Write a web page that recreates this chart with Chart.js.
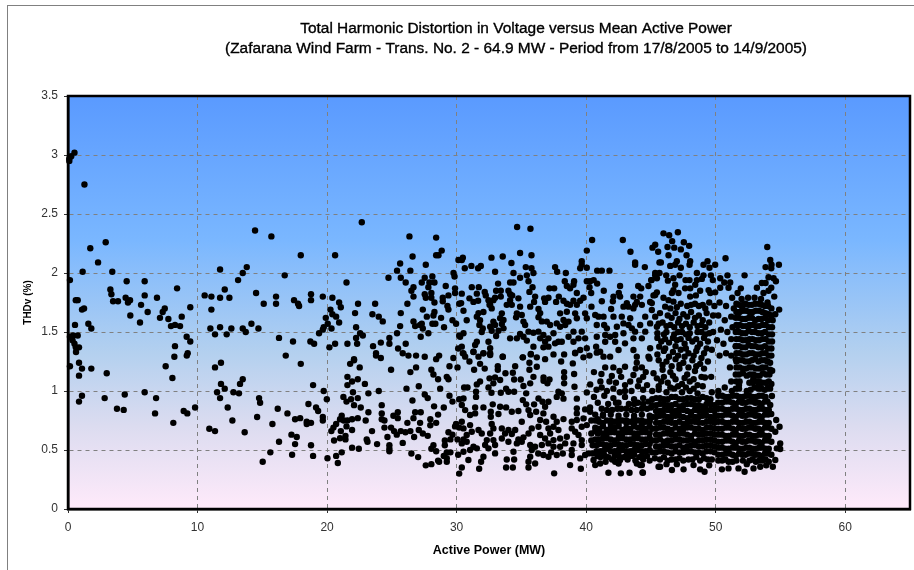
<!DOCTYPE html>
<html>
<head>
<meta charset="utf-8">
<title>THDv versus Active Power</title>
<script src="https://cdn.jsdelivr.net/npm/chart.js@4"></script>
<style>
html, body { margin: 0; padding: 0; background: #fff; overflow: hidden; }
canvas { display: block; }
</style>
</head>
<body>
<canvas id="chart" width="914" height="570"></canvas>
<script>
'use strict';

const titleLines = [
	'Total Harmonic Distortion in Voltage versus Mean Active Power',
	'(Zafarana Wind Farm - Trans. No. 2 - 64.9 MW - Period from 17/8/2005 to 14/9/2005)'
];
const xTitle = 'Active Power (MW)';
const yTitle = 'THDv (%)';
const yTickLabels = ['0', '0.5', '1', '1.5', '2', '2.5', '3', '3.5'];
const xTickLabels = ['0', '10', '20', '30', '40', '50', '60'];

// [active power MW, THDv %], band by band
const powerUnder15 = [
	[0.1,2.95],[0.1,2.97],[0.25,2.99],[0.5,3.02],[1.27,2.75],[0.15,1.94],[1.13,2.01],[1.72,2.21],[2.32,2.09],[2.91,2.26],
	[3.42,2.01],[3.27,1.86],[3.35,1.82],[3.48,1.76],[3.86,1.76],[4.53,1.93],[5.92,1.93],[4.45,1.79],[4.79,1.77],[4.63,1.75],
	[5.92,1.81],[5.64,1.73],[6.87,1.79],[8.42,1.87],[7.47,1.70],[7.31,1.67],[7.10,1.62],[6.15,1.67],[4.81,1.64],[5.56,1.58],
	[7.75,1.61],[8.78,1.63],[9.44,1.71],[7.95,1.55],[8.26,1.56],[8.65,1.55],[9.16,1.46],[9.44,1.42],[8.26,1.38],[0.75,1.77],
	[0.6,1.77],[1.08,1.69],[1.24,1.70],[0.54,1.56],[1.57,1.57],[1.8,1.53],[0.15,1.46],[0.4,1.47],[0.75,1.47],[0.35,1.43],
	[0.5,1.40],[0.6,1.37],[0.85,1.37],[10.55,1.81],[11.07,1.80],[11.74,1.79],[12.46,1.79],[12.1,1.86],[11.74,2.03],[13.13,1.94],
	[13.49,2.0],[13.8,2.05],[14.44,2.36],[14.52,1.83],[11.07,1.69],[10.99,1.53],[11.35,1.48],[11.74,1.54],[12.25,1.48],[12.61,1.53],
	[13.49,1.53],[13.72,1.50],[14.16,1.57],[14.7,1.53],[0.62,1.33],[0.85,1.24],[0.15,1.21],[1.08,1.19],[1.8,1.19],[0.85,1.13],
	[2.99,1.15],[1.08,0.96],[0.85,0.91],[2.83,0.94],[4.38,0.97],[3.78,0.85],[4.3,0.84],[5.92,0.99],[6.8,0.94],[6.72,0.81],
	[7.54,1.21],[8.21,1.29],[8.06,1.11],[9.17,1.30],[9.24,1.32],[8.13,0.73],[8.93,0.83],[9.21,0.81],[9.81,0.86],[11.35,1.20],
	[11.81,1.24],[11.81,1.06],[12.1,1.02],[11.51,0.99],[11.74,0.94],[12.77,0.99],[13.2,0.98],[13.28,1.06],[13.49,1.10],[12.33,0.86],
	[12.69,0.75],[10.91,0.68],[11.35,0.66],[13.64,0.65],[14.6,0.78],[14.75,0.94],[14.83,0.90]
];

const power15to30 = [
	[15.7,2.31],[17.97,2.15],[20.62,2.15],[22.68,2.43],[26.36,2.31],[28.42,2.30],[16.73,1.98],[26.6,2.14],[28.85,2.19],[28.42,2.15],
	[28.6,2.15],[27.62,2.07],[25.64,2.08],[25.4,2.02],[26.43,2.02],[24.74,1.96],[25.69,1.96],[26.07,1.92],[21.5,1.92],[27.54,1.96],
	[27.31,1.92],[28.13,1.97],[29.76,2.0],[29.84,1.97],[28.29,1.92],[27.9,1.92],[27.82,1.88],[29.16,1.89],[26.67,1.88],[26.51,1.85],
	[26.67,1.80],[27.54,1.82],[27.62,1.79],[28.05,1.83],[28.05,1.79],[28.29,1.75],[28.93,1.79],[28.93,1.76],[29.37,1.81],[29.88,1.87],
	[29.88,1.83],[29.29,1.72],[29.37,1.69],[26.2,1.74],[27.39,1.69],[28.29,1.67],[28.21,1.64],[27.7,1.63],[28.8,1.62],[25.69,1.66],
	[23.71,1.74],[22.39,1.74],[22.16,1.66],[23.5,1.65],[23.99,1.63],[24.3,1.59],[18.76,1.82],[18.76,1.77],[19.67,1.80],[20.41,1.79],
	[20.93,1.75],[21.06,1.71],[16.06,1.80],[16.06,1.74],[15.11,1.74],[17.45,1.77],[17.76,1.74],[17.84,1.72],[20.26,1.69],[20.41,1.65],
	[20.7,1.63],[19.9,1.62],[20.93,1.58],[20.05,1.57],[19.74,1.54],[20.34,1.53],[19.67,1.52],[19.38,1.49],[22.24,1.54],[22.55,1.49],
	[22.76,1.47],[22.24,1.45],[22.32,1.40],[21.57,1.40],[20.62,1.40],[20.18,1.37],[23.55,1.38],[24.15,1.41],[24.81,1.45],[24.81,1.40],
	[25.4,1.49],[25.64,1.55],[26.07,1.40],[25.48,1.36],[25.84,1.32],[26.28,1.30],[26.87,1.30],[27.54,1.29],[27.82,1.49],[27.23,1.46],
	[26.67,1.59],[26.8,1.55],[27.18,1.56],[27.39,1.53],[27.31,1.57],[28.13,1.57],[28.36,1.57],[29.03,1.54],[29.68,1.60],[29.96,1.57],
	[16.29,1.45],[17.37,1.42],[18.71,1.42],[19,1.40],[16.81,1.30],[22.08,1.27],[23.78,1.32],[23.78,1.30],[24.15,1.28],[28.65,1.30],
	[28.42,1.27],[29.75,1.28],[17.97,1.23],[18.92,1.05],[19.74,1.0],[19.98,0.93],[18.56,0.89],[19.15,0.86],[19.31,0.83],[16.19,0.85],
	[16.94,0.81],[17.53,0.76],[17.92,0.77],[18.43,0.74],[18.76,0.73],[18.43,0.72],[19.67,0.78],[19.67,0.75],[15.78,0.72],[17.25,0.63],
	[17.66,0.61],[16.29,0.57],[17.53,0.55],[18.76,0.54],[15.62,0.48],[17.3,0.46],[18.92,0.45],[15.03,0.40],[20.03,0.43],[20.7,0.45],
	[21.13,0.48],[20.83,0.39],[21.93,0.52],[22.45,0.51],[20.54,0.58],[21,0.60],[21.42,0.59],[21.42,0.62],[20.33,0.66],[20.49,0.69],
	[20.7,0.72],[21.06,0.66],[21.5,0.70],[21.93,0.67],[21.13,0.79],[21,0.76],[21.29,0.75],[21.57,0.75],[21.93,0.76],[22.37,0.77],
	[22.98,0.75],[23.19,0.82],[23.47,0.66],[23.06,0.59],[23.12,0.57],[23.86,0.55],[22.6,0.86],[22.08,0.88],[21.5,0.91],[21.26,0.95],
	[21.85,0.93],[22,0.99],[22.37,0.94],[23.19,0.98],[23.99,1.0],[21.57,1.12],[21.57,1.05],[21.93,1.08],[22.37,1.10],[22.92,1.06],
	[21.78,1.23],[22.08,1.26],[22.52,1.20],[24.94,1.18],[26.43,1.16],[26.87,1.20],[28.05,1.18],[28.21,1.14],[28.57,1.10],[29.45,1.21],
	[29.24,1.12],[29.37,1.10],[27.08,1.04],[26.13,1.02],[28.73,1.02],[27.54,0.97],[27.77,0.94],[26.59,0.92],[29.45,0.96],[29.68,0.91],
	[24.22,0.88],[24.22,0.81],[24.22,0.76],[24.43,0.75],[25.12,0.79],[25.46,0.82],[25.46,0.77],[26.67,0.77],[26.8,0.82],[27.23,0.82],
	[28.26,0.87],[28.57,0.80],[29.01,0.86],[26.2,0.73],[27.18,0.73],[27.97,0.76],[27.97,0.71],[28.42,0.73],[24.43,0.69],[24.94,0.69],
	[25.17,0.66],[25.38,0.63],[25.69,0.66],[26.05,0.65],[26.43,0.66],[26.72,0.61],[27.08,0.67],[27.39,0.64],[27.77,0.62],[24.66,0.61],
	[25.84,0.56],[24.81,0.54],[24.81,0.51],[24.81,0.49],[26.51,0.47],[27.03,0.44],[27.62,0.37],[28.05,0.38],[28.21,0.54],[28.05,0.51],
	[28.42,0.49],[28.57,0.41],[28.65,0.40],[29.24,0.43],[29.24,0.40],[29.01,0.45],[29.52,0.48],[29.24,0.48],[29.09,0.58],[29.09,0.54],
	[29.52,0.59],[29.37,0.65],[29.68,0.63],[29.88,0.70],[29.96,0.72]
];

const power30to40 = [
	[30.2,1.74],[30.14,2.11],[30.2,1.47],[30.12,1.36],[30.07,1.20],[30.2,0.93],[30.2,0.69],[30.07,0.59],[30.12,0.46],[30.2,0.30],
	[34.67,2.39],[35.7,2.375],[30.48,2.13],[30.4,2.11],[32.69,2.13],[33.56,2.14],[34.9,2.17],[35.78,2.15],[34.23,2.085],[39.66,2.10],
	[39.66,2.07],[39.54,2.04],[31.14,2.06],[30.63,2.04],[31.87,2.06],[31.66,2.04],[32.97,2.01],[35.34,2.05],[35.78,2.04],[35.93,2.0],
	[37.6,2.05],[37.76,2.01],[38.43,2.0],[34.39,2.0],[35.42,1.98],[34.9,1.96],[35.55,1.93],[34.13,1.92],[34.39,1.92],[33.2,1.91],
	[38.35,1.93],[39.07,1.93],[38.51,1.89],[38.76,1.87],[39.02,1.9],[31.17,1.88],[31.71,1.88],[32.17,1.84],[32.25,1.81],[33.05,1.85],
	[33.41,1.85],[34.0,1.85],[34.13,1.82],[35.86,1.88],[35.62,1.84],[37.17,1.87],[37.53,1.87],[31.56,1.825],[30.4,1.825],[30.99,1.785],
	[31.3,1.755],[31.66,1.765],[32.97,1.79],[33.41,1.80],[32.59,1.73],[34.29,1.81],[34.13,1.77],[34.77,1.785],[33.87,1.73],[34.26,1.73],
	[36.06,1.80],[35.98,1.755],[35.68,1.715],[37.09,1.79],[36.76,1.785],[36.83,1.755],[37.89,1.80],[37.68,1.755],[38.25,1.765],[38.51,1.74],
	[39.28,1.83],[39.79,1.79],[39.02,1.765],[39.54,1.765],[39.28,1.73],[38.76,1.73],[30.35,1.745],[30.53,1.68],[30.78,1.6],[32.46,1.77],
	[32.84,1.77],[32.71,1.70],[32.54,1.73],[34.9,1.715],[36.32,1.695],[36.45,1.66],[36.32,1.625],[36.58,1.59],[32.07,1.67],[31.69,1.66],
	[31.56,1.63],[31.81,1.60],[31.76,1.56],[32.02,1.53],[31.94,1.50],[32.84,1.588],[32.59,1.545],[32.97,1.56],[32.71,1.51],[33.49,1.658],
	[33.36,1.616],[33.62,1.602],[33.49,1.568],[33.62,1.531],[33.23,1.511],[33.05,1.466],[34.65,1.658],[34.59,1.624],[35.03,1.644],[35.16,1.588],
	[35.29,1.559],[34.9,1.483],[35.55,1.503],[35.93,1.494],[36.32,1.503],[34.65,1.446],[35.16,1.46],[35.42,1.427],[34.13,1.446],[36.96,1.588],
	[37.22,1.559],[37.73,1.573],[37.99,1.545],[38.38,1.559],[38.25,1.602],[38.64,1.588],[37.99,1.658],[38.51,1.672],[39.15,1.658],[39.28,1.616],
	[39.92,1.658],[36.7,1.475],[37.09,1.446],[36.83,1.418],[36.45,1.446],[37.48,1.489],[37.86,1.418],[38.12,1.418],[38.64,1.46],[39.02,1.503],
	[39.41,1.446],[39.66,1.503],[39.92,1.446],[39.02,1.418],[39.54,1.347],[30.4,1.376],[30.53,1.319],[31.3,1.333],[31.43,1.39],[31.56,1.418],
	[32.46,1.418],[32.59,1.362],[32.07,1.319],[32.59,1.305],[33.56,1.291],[31.69,1.291],[30.66,1.291],[30.53,1.489],[30.27,1.46],[35.93,1.376],
	[35.73,1.314],[35.11,1.285],[36.19,1.285],[36.7,1.37],[37.09,1.376],[37.6,1.404],[39.15,1.319],[30.48,1.32],[31.3,1.33],[32.07,1.32],
	[32.59,1.32],[33.56,1.29],[35.11,1.285],[35.73,1.31],[36.83,1.27],[37.48,1.31],[38.3,1.31],[39.15,1.325],[39.79,1.285],[30.99,1.25],
	[31.81,1.23],[31.35,1.18],[32.17,1.19],[33.18,1.21],[33.18,1.18],[34.52,1.21],[34.34,1.155],[33.77,1.15],[35.62,1.24],[35.62,1.18],
	[36.19,1.206],[38.07,1.25],[38.97,1.234],[39.07,1.144],[38.3,1.16],[38.3,1.115],[38.3,1.065],[32.54,1.107],[32.97,1.115],[33.36,1.093],
	[32.84,1.065],[32.46,1.03],[31.81,1.08],[31.56,1.056],[30.58,1.03],[30.84,1.03],[31.5,0.994],[31.5,0.95],[32.69,0.985],[33.41,0.985],
	[33.82,1.02],[34,0.994],[34.44,1.098],[34.95,1.098],[34.44,0.994],[35.16,1.042],[35.68,1.065],[35.93,1.12],[35.37,0.98],[36.71,1.115],
	[37.17,1.098],[37.01,1.065],[36.71,1.087],[37.86,0.994],[38.12,0.98],[37.73,0.95],[38.25,0.935],[39.1,1.036],[39.28,0.935],[35.11,0.923],
	[35.37,0.887],[35.98,0.887],[36.32,0.937],[36.63,0.909],[37.09,0.909],[36.83,0.867],[35.55,0.838],[35.68,0.796],[36.14,0.824],[36.7,0.81],
	[35.03,0.74],[32.79,0.887],[33.36,0.867],[33.82,0.861],[32.07,0.861],[31.43,0.861],[32.64,0.824],[32.64,0.782],[33.23,0.805],[34.26,0.824],
	[34.77,0.83],[30.53,0.937],[30.4,0.881],[30.66,0.838],[31.04,0.796],[31.43,0.81],[38.25,0.762],[37.48,0.782],[36.45,0.754],[36.91,0.74],
	[37.73,0.74],[36.32,0.697],[39.28,0.853],[39.28,0.81],[39.92,0.844],[39.79,0.768],[39.28,0.754],[38.89,0.74],[30.4,0.74],[30.53,0.683],
	[31.04,0.711],[31.17,0.655],[31.69,0.669],[31.94,0.64],[30.78,0.627],[32.71,0.72],[32.84,0.683],[32.59,0.64],[33.49,0.683],[34,0.669],
	[34.52,0.669],[33.74,0.64],[34.26,0.635],[35.8,0.683],[35.55,0.64],[35.16,0.607],[34.77,0.59],[36.45,0.627],[37.09,0.683],[37.48,0.697],
	[37.86,0.669],[37.22,0.64],[36.83,0.598],[38.89,0.683],[39.15,0.655],[39.66,0.697],[39.41,0.627],[38.51,0.612],[37.99,0.598],[37.48,0.584],
	[30.53,0.59],[30.78,0.57],[30.4,0.556],[31.3,0.528],[31.56,0.514],[31.04,0.5],[30.53,0.485],[32.33,0.584],[32.84,0.584],[33.49,0.598],
	[34,0.57],[32.97,0.542],[32.46,0.514],[32.2,0.542],[32.97,0.471],[32.07,0.443],[34.65,0.556],[35.03,0.57],[35.68,0.542],[36.06,0.528],
	[36.58,0.542],[37.09,0.556],[37.48,0.528],[35.8,0.5],[35.68,0.443],[35.55,0.4],[36.06,0.386],[35.55,0.352],[33.87,0.42],[34.44,0.42],
	[33.82,0.352],[34.34,0.352],[34.39,0.485],[30.91,0.415],[31.89,0.4],[31.74,0.341],[30.4,0.352],[36.7,0.457],[37.09,0.443],[37.73,0.457],
	[38.76,0.372],[39.59,0.341],[37.53,0.302],[39.02,0.556],[39.66,0.584],[39.66,0.542],[38.89,0.5],[38.89,0.457],[39.54,0.429],[39.92,0.457],
	[37.99,0.528],[38.38,0.556],[37.3,0.48],[38.2,0.47],[36.3,0.47]
];

const power40to45 = [
	[40.46,2.28],[42.83,2.28],[40.05,2.19],[43.42,2.18],[40.05,2.045],[43.78,2.09],[43.78,2.07],[44.53,2.05],[40.85,2.02],[41.21,2.02],
	[41.8,2.02],[40.05,1.93],[40.31,1.93],[40.58,1.94],[40.85,1.91],[40.26,1.88],[40.39,1.83],[41.36,1.85],[42.62,1.89],[42.52,1.83],
	[42.62,1.80],[44.02,1.89],[44.25,1.87],[44.81,1.89],[41.21,1.76],[42.11,1.80],[42.06,1.76],[43.65,1.80],[44.17,1.80],[43.78,1.73],
	[44.3,1.73],[40.41,1.715],[41.93,1.695],[42.88,1.715],[43.27,1.715],[43.65,1.70],[43.14,1.745],[43.91,1.755],[40.05,1.616],[40.7,1.644],
	[40.96,1.63],[41.34,1.63],[40.82,1.559],[41.39,1.559],[41.6,1.531],[41.47,1.475],[42.11,1.63],[42.75,1.63],[43.4,1.616],[43.27,1.559],
	[42.88,1.573],[42.37,1.545],[42.24,1.475],[41.85,1.46],[42.88,1.489],[42.24,1.418],[43.53,1.531],[43.78,1.503],[43.65,1.446],[44.3,1.446],
	[44.56,1.503],[44.17,1.559],[44.56,1.63],[44.94,1.573],[40.82,1.46],[41.47,1.418],[40.77,1.375],[41.08,1.333],[41.85,1.291],[41.34,1.291],
	[40.05,1.362],[42.5,1.347],[43.0,1.404],[43.65,1.347],[43.91,1.291],[44.81,1.291],[44.94,1.362],[40.26,1.30],[40.82,1.325],[44.89,1.274],
	[41.47,1.2],[41.18,1.144],[41.98,1.127],[42.57,1.17],[43.0,1.206],[43.65,1.135],[43.83,1.19],[43.91,1.24],[40.31,1.056],[40.05,0.988],
	[40.31,0.824],[40.05,0.711],[40.18,0.471],[40.57,0.415],[40.7,0.372],[41.08,0.386],[41.34,0.471],[40.87,0.449],[42.5,0.386],[42.24,0.4],
	[42.62,0.415],[44.17,0.372],[43.91,0.386],[41.72,0.307],[42.68,0.302],[43.35,0.307],[44.35,0.31],[44.3,0.372],[44.38,0.307],
	[41.1,1.08],[42.3,1.07],[43.0,1.05],[44.1,1.09],[44.7,1.05],[40.8,1.01],[41.6,1.0],[42.6,0.99],[43.5,1.0],[44.4,1.01],
	[40.6,0.95],[41.4,0.96],[42.1,0.94],[43.0,0.95],[43.7,0.93],[44.4,0.94],[40.9,0.9],[41.7,0.89],[42.5,0.9],[43.3,0.89],[44.0,0.9],[44.8,0.91],
	[40.3,0.86],[41.2,0.85],[42.0,0.84],[42.7,0.85],[43.5,0.84],[44.3,0.85],[45.0,0.86],[40.7,0.8],[41.3,0.79],[41.9,0.8],[42.5,0.79],[43.1,0.8],[43.7,0.79],[44.3,0.8],[44.9,0.79],
	[40.4,0.75],[41.0,0.74],[41.6,0.75],[42.2,0.74],[42.8,0.75],[43.4,0.74],[44.0,0.75],[44.6,0.74],[40.7,0.69],[41.3,0.7],[41.9,0.69],[42.5,0.7],[43.1,0.69],[43.7,0.7],[44.3,0.69],[44.9,0.7],
	[40.4,0.64],[41.0,0.65],[41.6,0.64],[42.2,0.65],[42.8,0.64],[43.4,0.65],[44.0,0.64],[44.6,0.65],[40.7,0.59],[41.3,0.6],[41.9,0.59],[42.5,0.6],[43.1,0.59],[43.7,0.6],[44.3,0.59],[44.9,0.6],
	[40.5,0.54],[41.0,0.55],[41.6,0.54],[42.2,0.55],[42.8,0.54],[43.4,0.55],[44.0,0.54],[44.6,0.55],[40.8,0.49],[41.4,0.5],[41.9,0.49],[42.5,0.5],[43.1,0.49],[43.7,0.5],[44.3,0.49],[44.9,0.5],
	[41.7,0.44],[42.2,0.45],[42.9,0.44],[43.5,0.45],[44.1,0.44],[44.7,0.45]
];

const power45to50 = [
	[45.12,2.215],[45.33,2.24],[45.56,2.18],[45.66,2.09],[45.97,2.336],[46.41,2.32],[47.08,2.345],[46.64,2.27],[47.54,2.26],[47.95,2.23],
	[46.28,2.22],[46.8,2.215],[47.31,2.20],[46.36,2.15],[47.75,2.15],[49.96,2.07],[49.37,2.10],[49.06,2.07],[49.52,2.045],[45.77,2.09],
	[46.49,2.06],[47.0,2.10],[46.87,2.07],[47.31,2.045],[48.03,2.10],[47.98,2.07],[48.55,2.0],[45.66,2.0],[45.33,1.98],[45.02,1.94],
	[46.18,1.98],[47.21,1.98],[46.74,1.955],[46.31,1.935],[47.67,1.94],[47.98,1.94],[48.55,1.94],[48.93,1.95],[49.06,1.98],[49.63,1.98],
	[49.78,1.94],[45.33,2.0],[45.46,1.955],[45.05,1.94],[46.87,1.9],[46.74,1.855],[46.62,1.83],[47.13,1.83],[47.64,1.87],[48.03,1.87],
	[48.42,1.9],[48.8,1.85],[48.03,1.80],[48.47,1.81],[49.45,1.855],[49.96,1.836],[49.58,1.83],[45.46,1.836],[45.2,1.81],[44.94,1.755],
	[45.97,1.79],[46.36,1.77],[46.74,1.757],[46.1,1.715],[45.33,1.814],[45.07,1.745],[45.07,1.686],[45.33,1.63],[45.46,1.545],[45.64,1.376],
	[47.3,1.74],[47.8,1.72],[48.4,1.74],[49.0,1.73],[49.5,1.75],[49.9,1.72],[45.7,1.66],[46.3,1.64],[46.9,1.66],[47.5,1.65],[48.1,1.67],[48.7,1.64],[49.3,1.66],[49.8,1.64],
	[45.9,1.58],[46.5,1.56],[47.1,1.58],[47.7,1.57],[48.3,1.58],[48.9,1.56],[49.5,1.58],[45.5,1.49],[46.2,1.5],[46.8,1.48],[47.4,1.5],[48.0,1.49],[48.6,1.5],[49.2,1.48],[49.8,1.5],
	[45.8,1.42],[46.4,1.41],[47.0,1.43],[47.6,1.4],[48.2,1.42],[48.8,1.4],[49.4,1.42],[46.0,1.34],[46.7,1.33],[47.3,1.35],[47.9,1.32],[48.5,1.34],[49.1,1.32],[49.7,1.35],
	[45.6,1.26],[46.2,1.25],[46.9,1.27],[47.5,1.24],[48.2,1.26],[48.8,1.23],[49.4,1.25],[45.2,1.15],[45.46,1.107],[45.9,1.18],[46.5,1.16],[47.2,1.19],[47.8,1.14],[48.4,1.17],[48.9,1.12],
	[45.8,1.08],[46.3,1.07],[46.9,1.1],[47.4,1.06],[48.0,1.08],[48.6,1.05],[49.17,1.115],[49.65,1.12],[45.1,1.0],[45.6,1.01],[46.2,0.99],[46.8,1.02],[47.4,0.99],[48.0,1.0],[48.6,0.98],[49.7,0.99],
	[45.4,0.94],[46.0,0.93],[46.6,0.95],[47.2,0.93],[47.8,0.94],[48.4,0.93],[49.0,0.95],[49.6,0.93],[45.1,0.88],[45.7,0.89],[46.3,0.88],[46.9,0.89],[47.5,0.88],[48.1,0.89],[48.7,0.88],[49.3,0.89],[49.9,0.88],
	[45.4,0.83],[46.0,0.84],[46.6,0.83],[47.2,0.84],[47.8,0.83],[48.4,0.84],[49.0,0.83],[49.6,0.84],[45.1,0.78],[45.7,0.79],[46.3,0.78],[46.9,0.79],[47.5,0.78],[48.1,0.79],[48.7,0.78],[49.3,0.79],[49.9,0.78],
	[45.4,0.73],[46.0,0.74],[46.6,0.73],[47.2,0.74],[47.8,0.73],[48.4,0.74],[49.0,0.73],[49.6,0.74],[45.1,0.68],[45.7,0.69],[46.3,0.68],[46.9,0.69],[47.5,0.68],[48.1,0.69],[48.7,0.68],[49.3,0.69],[49.9,0.68],
	[45.4,0.63],[46.0,0.64],[46.6,0.63],[47.2,0.64],[47.8,0.63],[48.4,0.64],[49.0,0.63],[49.6,0.64],[45.1,0.58],[45.7,0.59],[46.3,0.58],[46.9,0.59],[47.5,0.58],[48.1,0.59],[48.7,0.58],[49.3,0.59],[49.9,0.58],
	[45.4,0.53],[46.0,0.54],[46.6,0.53],[47.2,0.54],[47.8,0.53],[48.4,0.54],[49.0,0.53],[49.6,0.54],[45.1,0.48],[45.7,0.49],[46.3,0.48],[46.9,0.49],[47.5,0.48],[48.1,0.49],[48.7,0.48],[49.3,0.49],[49.9,0.48],
	[45.3,0.43],[46.0,0.44],[46.6,0.42],[47.2,0.43],[47.9,0.42],[48.5,0.44],[49.1,0.43],[49.7,0.42],[45.59,0.358],[45.71,0.358],[46.62,0.33],[46.2,0.38],[47.52,0.336],[47.0,0.38],[48.29,0.372],[48.8,0.336],[49.14,0.316],[49.5,0.37]
];

const power50to55 = [
	[53.98,2.22],[54.21,2.11],[54.88,2.07],[54.31,2.07],[53.85,2.05],[54.29,2.04],[50.76,2.125],[52.23,1.98],[50.91,1.98],[50.35,1.955],
	[50.66,1.92],[51.12,1.92],[54.08,1.964],[54.47,1.955],[54.65,1.93],[53.56,1.915],[53.85,1.915],[53.18,1.875],[54.29,1.875],[54.08,1.85],
	[53.69,1.83],[54.52,1.80],[51.94,1.87],[51.69,1.83],[51.27,1.79],[50.35,1.875],[50.99,1.875],[54.9,1.69],[50.3,1.75],[50.8,1.72],
	[51.4,1.7],[50.2,1.64],[50.7,1.6],[51.2,1.63],[50.4,1.52],[50.9,1.5],[51.3,1.54],[50.1,1.43],[50.6,1.4],[51.2,1.44],[50.3,1.3],[50.8,1.32],[51.2,1.3],[51.1,1.2],[50.2,1.0],[50.7,1.03],[51.2,1.08],[51.25,1.0],
	[52.0,1.78],[52.5,1.79],[53.0,1.79],[53.5,1.78],[54.0,1.75],[51.8,1.73],[52.3,1.74],[52.8,1.73],[53.3,1.74],[53.8,1.72],[54.3,1.7],[51.6,1.67],[52.1,1.68],[52.6,1.67],[53.1,1.68],[53.6,1.67],[54.1,1.65],[54.6,1.65],
	[51.8,1.62],[52.3,1.61],[52.8,1.62],[53.3,1.61],[53.8,1.62],[54.4,1.6],[51.6,1.56],[52.1,1.55],[52.6,1.56],[53.1,1.55],[53.6,1.56],[54.1,1.54],[51.8,1.5],[52.3,1.49],[52.8,1.5],[53.3,1.49],[53.8,1.5],[54.35,1.48],
	[51.6,1.44],[52.1,1.43],[52.6,1.44],[53.1,1.43],[53.6,1.44],[54.1,1.42],[51.8,1.38],[52.3,1.37],[52.8,1.38],[53.3,1.37],[53.8,1.38],[54.3,1.36],[51.6,1.32],[52.1,1.31],[52.6,1.32],[53.1,1.31],[53.6,1.32],[54.1,1.3],
	[51.8,1.26],[52.3,1.25],[52.8,1.26],[53.3,1.25],[53.8,1.26],[54.2,1.24],[51.6,1.2],[52.1,1.19],[52.6,1.2],[53.1,1.19],[53.6,1.2],[54.36,1.172],[51.8,1.14],[52.4,1.13],[52.9,1.14],[53.4,1.13],[53.9,1.14],
	[51.6,1.08],[52.6,1.07],[53.1,1.08],[53.6,1.07],[54.1,1.08],[51.8,1.02],[52.7,1.01],[53.3,1.02],[53.8,1.01],[54.2,1.02],[50.5,0.96],[51.0,0.95],[51.6,0.96],[52.1,0.95],[52.6,0.96],[53.1,0.95],[53.6,0.96],[54.34,0.957],
	[50.2,0.9],[50.8,0.91],[51.3,0.9],[51.8,0.91],[52.3,0.9],[52.8,0.91],[53.3,0.9],[53.8,0.91],[54.21,0.881],[50.5,0.85],[51.0,0.84],[51.6,0.85],[52.1,0.84],[52.6,0.85],[53.1,0.84],[53.6,0.85],[54.1,0.84],
	[50.2,0.79],[50.8,0.8],[51.3,0.79],[51.8,0.8],[52.3,0.79],[52.8,0.8],[53.3,0.79],[53.8,0.8],[54.29,0.805],[50.5,0.74],[51.0,0.73],[51.6,0.74],[52.1,0.73],[52.6,0.74],[53.1,0.73],[53.6,0.74],[54.1,0.73],[54.67,0.754],
	[50.2,0.68],[50.8,0.69],[51.3,0.68],[51.8,0.69],[52.3,0.68],[52.8,0.69],[53.3,0.68],[53.8,0.69],[54.3,0.68],[54.93,0.697],[50.5,0.63],[51.0,0.62],[51.6,0.63],[52.1,0.62],[52.6,0.63],[53.1,0.62],[53.6,0.63],[54.1,0.62],[54.6,0.655],
	[50.2,0.57],[50.8,0.58],[51.3,0.57],[51.8,0.58],[52.3,0.57],[52.8,0.58],[53.3,0.57],[53.8,0.58],[54.3,0.57],[54.98,0.556],[50.5,0.52],[51.0,0.51],[51.6,0.52],[52.1,0.51],[52.6,0.52],[53.1,0.51],[53.6,0.52],[54.1,0.51],[54.72,0.514],[54.98,0.508],
	[50.2,0.46],[50.8,0.47],[51.3,0.46],[51.8,0.47],[52.3,0.46],[52.8,0.47],[53.3,0.46],[53.8,0.47],[54.3,0.46],[50.5,0.41],[51.0,0.4],[51.6,0.41],[52.6,0.41],[53.1,0.4],[53.6,0.41],[54.1,0.4],[54.6,0.415],
	[50.48,0.336],[50.99,0.344],[51.76,0.344],[52.23,0.316],[52.92,0.344],[53.44,0.358],[54.41,0.358],[53.9,0.37],[52.4,0.38]
];

// the black mass at high power, where single dots cannot be told apart
const denseMass = [
	[40.9,0.76],[41.3,0.73],[41.9,0.72],[42.5,0.76],[43.1,0.73],[43.7,0.72],[44.3,0.75],[44.9,0.74],
	[41.0,0.68],[41.6,0.67],[42.2,0.69],[42.8,0.67],[43.4,0.68],[44.0,0.69],[44.6,0.68],[40.7,0.66],
	[41.0,0.59],[41.6,0.6],[42.2,0.58],[42.8,0.6],[43.4,0.59],[44.0,0.6],[44.6,0.59],[40.4,0.58],
	[41.1,0.49],[41.7,0.51],[42.2,0.49],[42.8,0.5],[43.4,0.49],[44.0,0.5],[44.6,0.49],[40.5,0.47],
	[42.0,0.42],[42.6,0.43],[43.2,0.42],[43.8,0.41],[44.4,0.42],[44.9,0.41],[41.5,0.4],
	[45.4,0.88],[46.0,0.89],[46.6,0.88],[47.2,0.87],[47.8,0.89],[48.4,0.88],[49.0,0.87],[49.6,0.89],
	[45.4,0.78],[46.0,0.79],[46.6,0.78],[47.2,0.79],[47.8,0.77],[48.4,0.78],[49.0,0.79],[49.6,0.78],
	[45.4,0.68],[46.0,0.69],[46.6,0.67],[47.2,0.68],[47.8,0.69],[48.4,0.68],[49.0,0.67],[49.6,0.69],
	[45.4,0.58],[46.0,0.57],[46.6,0.58],[47.2,0.59],[47.8,0.58],[48.4,0.57],[49.0,0.58],[49.6,0.59],
	[45.4,0.48],[46.0,0.49],[46.6,0.47],[47.2,0.48],[47.8,0.49],[48.4,0.48],[49.0,0.47],[49.6,0.49],
	[45.7,0.42],[46.3,0.41],[46.9,0.42],[47.5,0.41],[48.2,0.42],[48.8,0.41],[49.4,0.42],
	[50.5,0.9],[51.05,0.91],[51.55,0.89],[52.05,0.9],[52.55,0.91],[53.05,0.9],[53.55,0.89],[54.0,0.91],
	[50.5,0.79],[51.05,0.8],[51.55,0.78],[52.05,0.79],[52.55,0.8],[53.05,0.79],[53.55,0.78],[54.05,0.8],
	[50.5,0.68],[51.05,0.69],[51.55,0.67],[52.05,0.68],[52.55,0.69],[53.05,0.68],[53.55,0.67],[54.05,0.69],
	[50.5,0.57],[51.05,0.58],[51.55,0.56],[52.05,0.57],[52.55,0.58],[53.05,0.57],[53.55,0.56],[54.05,0.58],
	[50.5,0.46],[51.05,0.47],[51.55,0.45],[52.05,0.46],[52.55,0.47],[53.05,0.46],[53.55,0.45],[54.05,0.47],
	[51.85,1.67],[52.35,1.68],[52.85,1.67],[53.35,1.68],[53.85,1.66],[54.3,1.64],
	[51.85,1.56],[52.35,1.55],[52.85,1.56],[53.35,1.55],[53.85,1.56],[54.35,1.54],
	[51.85,1.44],[52.35,1.43],[52.85,1.44],[53.35,1.43],[53.85,1.44],[54.35,1.42],
	[51.85,1.32],[52.35,1.31],[52.85,1.32],[53.35,1.31],[53.85,1.32],[54.3,1.3],
	[51.85,1.2],[52.35,1.19],[52.85,1.2],[53.35,1.19],[53.85,1.2],[54.2,1.18],
	[51.85,1.08],[52.85,1.07],[53.35,1.08],[53.85,1.07],[54.3,1.06],
	[51.6,1.74],[52.05,1.71],[51.7,1.55],[51.55,1.38],[51.6,1.25],
	[46.0,1.12],[46.7,1.13],[47.6,1.11],[48.3,1.1],[45.6,1.04],[46.5,1.03],[47.1,1.04],[47.7,1.03],[48.3,1.02],[49.0,1.04],
	[45.9,1.22],[46.6,1.21],[47.2,1.22],[47.9,1.2],[48.5,1.21],[49.1,1.19],[45.5,1.31],[46.4,1.29],[47.1,1.3],[47.6,1.29],[48.3,1.3],[48.9,1.28],
	[45.5,1.45],[46.1,1.44],[46.7,1.45],[47.3,1.44],[47.9,1.45],[48.5,1.44],[49.1,1.45],[45.6,1.57],[46.2,1.55],[46.8,1.54],[47.4,1.55],[48.0,1.54],[48.6,1.55],[49.2,1.54],
	[41.8,1.08],[42.7,1.12],[43.4,1.08],[44.4,1.12],[41.2,1.03],[42.1,1.02],[43.0,1.0],[44.0,1.04],[40.6,1.16],[42.1,1.2],[44.3,1.2],[44.6,1.16]
];

const denseMassGaps = [
	[51.55,1.62],[52.05,1.61],[52.55,1.62],[53.05,1.6],[53.55,1.61],[54.05,1.6],[51.55,1.5],[52.05,1.49],[52.55,1.51],[53.05,1.5],[53.55,1.49],[54.1,1.48],
	[51.55,1.38],[52.05,1.37],[52.55,1.39],[53.05,1.38],[53.55,1.37],[54.05,1.36],[51.55,1.27],[52.05,1.26],[52.55,1.25],[53.05,1.27],[53.55,1.26],[54.0,1.25],
	[51.55,1.14],[52.1,1.15],[52.65,1.14],[53.15,1.13],[53.65,1.15],[54.15,1.14],[51.55,1.02],[52.4,1.0],[53.0,1.03],[53.55,1.02],[54.05,1.03],
	[51.8,1.05],[52.9,1.1],[53.35,1.05],[52.1,1.73],[52.55,1.73],[53.05,1.74],[53.55,1.73],[54.05,1.72],
	[45.7,0.83],[46.3,0.84],[46.9,0.83],[47.5,0.84],[48.1,0.82],[48.7,0.83],[49.3,0.84],[49.9,0.83],
	[45.7,0.73],[46.3,0.74],[46.9,0.73],[47.5,0.72],[48.1,0.74],[48.7,0.73],[49.3,0.74],[49.9,0.73],
	[45.7,0.63],[46.3,0.64],[46.9,0.63],[47.5,0.64],[48.1,0.62],[48.7,0.63],[49.3,0.64],[49.9,0.63],
	[45.7,0.53],[46.3,0.54],[46.9,0.53],[47.5,0.52],[48.1,0.54],[48.7,0.53],[49.3,0.54],[49.9,0.53],
	[45.1,0.93],[45.7,0.94],[46.3,0.93],[46.9,0.95],[47.5,0.93],[48.1,0.94],[48.7,0.93],[49.3,0.94],
	[50.2,0.85],[50.75,0.84],[51.3,0.85],[51.85,0.84],[52.35,0.85],[52.85,0.84],[53.35,0.85],[53.85,0.84],
	[50.2,0.74],[50.75,0.73],[51.3,0.74],[51.85,0.73],[52.35,0.74],[52.85,0.73],[53.35,0.74],[53.85,0.73],
	[50.2,0.63],[50.75,0.62],[51.3,0.63],[51.85,0.62],[52.35,0.63],[52.85,0.62],[53.35,0.63],[53.85,0.62],
	[50.2,0.52],[50.75,0.51],[51.3,0.52],[51.85,0.51],[52.35,0.52],[52.85,0.51],[53.35,0.52],[53.85,0.51],
	[50.2,0.41],[50.75,0.42],[51.3,0.4],[52.1,0.41],[52.85,0.42],[53.35,0.41],[53.85,0.42],
	[50.2,0.96],[50.75,0.95],[51.3,0.96],[51.85,0.95],[52.35,0.96],[52.85,0.95],[53.35,0.96],[53.85,0.95],
	[40.7,0.75],[41.3,0.8],[41.9,0.75],[42.5,0.72],[43.1,0.75],[43.7,0.76],[44.3,0.72],[44.9,0.75],
	[40.9,0.64],[41.3,0.64],[41.9,0.65],[42.5,0.64],[43.1,0.65],[43.7,0.64],[44.3,0.65],[44.9,0.64],
	[40.8,0.54],[41.3,0.55],[41.9,0.54],[42.5,0.55],[43.1,0.54],[43.7,0.55],[44.3,0.54],[44.9,0.55],
	[41.1,0.44],[41.45,0.45],[42.5,0.46],[43.1,0.45],[43.7,0.46],[44.3,0.45],
	[41.6,0.84],[42.4,0.85],[43.1,0.85],[43.9,0.84],[44.7,0.85],[42.3,0.9],[43.7,0.89],[44.4,0.89],
	[46.1,1.36],[46.9,1.38],[47.7,1.36],[48.6,1.37],[49.3,1.36],[46.0,1.48],[47.1,1.5],[47.7,1.48],[48.9,1.5],[49.5,1.49],
	[46.6,1.62],[47.2,1.61],[47.8,1.63],[48.4,1.62],[49.0,1.6],[46.5,1.7],[47.0,1.71],[48.1,1.73],[48.7,1.72],[49.2,1.7]
];

const thdPoints = [powerUnder15, power15to30, power30to40, power40to45, power45to50, power50to55, denseMass, denseMassGaps]
	.flat().map(p => ({ x: p[0], y: p[1] }));

const fontName = '"Liberation Sans", Arial, sans-serif';

// excel style gradient plot area plus the frame round the chart
const chartFrame = {
	id: 'chartFrame',
	beforeDraw(chart) {
		const ctx = chart.ctx;
		const a = chart.chartArea;
		ctx.save();
		ctx.fillStyle = '#fff';
		ctx.fillRect(0, 0, chart.width, chart.height);
		ctx.strokeStyle = '#808080';
		ctx.lineWidth = 1;
		ctx.strokeRect(7.5, 5.5, 1000, 1000);
		const grad = ctx.createLinearGradient(0, a.top, 0, a.bottom);
		grad.addColorStop(0, '#5a9aff');
		grad.addColorStop(0.35, '#7ab7ff');
		grad.addColorStop(0.62, '#b3d0ef');
		grad.addColorStop(0.8, '#dcdcf0');
		grad.addColorStop(1, '#ffeafa');
		ctx.fillStyle = grad;
		ctx.fillRect(a.left, a.top, a.right - a.left, a.bottom - a.top);
		ctx.restore();
	},
	beforeDatasetsDraw(chart) {
		const ctx = chart.ctx;
		const a = chart.chartArea;
		ctx.save();
		ctx.strokeStyle = '#000';
		ctx.lineWidth = 2.5;
		ctx.strokeRect(a.left, a.top, a.right - a.left, a.bottom - a.top);
		ctx.restore();
	},
	afterDraw(chart) {
		const ctx = chart.ctx;
		ctx.save();
		ctx.fillStyle = '#000';
		ctx.strokeStyle = '#000';
		ctx.lineWidth = 0.35;
		ctx.font = '15.45px ' + fontName;
		ctx.textAlign = 'center';
		ctx.textBaseline = 'middle';
		titleLines.forEach((line, i) => {
			ctx.fillText(line, 516, 28.5 + i * 20);
			ctx.strokeText(line, 516, 28.5 + i * 20);
		});
		ctx.restore();
	}
};

new Chart(document.getElementById('chart'), {
	type: 'scatter',
	data: {
		datasets: [{
			label: 'THDv',
			data: thdPoints,
			backgroundColor: '#000',
			borderColor: '#000',
			borderWidth: 0,
			pointRadius: 3.2,
			clip: false
		}]
	},
	options: {
		responsive: false,
		animation: false,
		devicePixelRatio: 1,
		layout: { padding: { top: 96, right: 4, left: 0, bottom: 0 } },
		plugins: { legend: { display: false }, tooltip: { enabled: false } },
		scales: {
			x: {
				type: 'linear',
				min: 0,
				max: 65,
				afterFit(scale) { scale.height = 61; },
				afterBuildTicks(scale) { scale.ticks = xTickLabels.map(v => ({ value: Number(v) })); },
				title: { display: true, text: xTitle, color: '#000', font: { family: fontName, size: 12.5, weight: 'bold' }, padding: { top: 0, bottom: 12 } },
				ticks: { color: '#333', font: { family: fontName, size: 12 }, padding: 7, maxRotation: 0, callback: v => String(v) },
				grid: { color: '#808080', tickColor: '#333', tickLength: 4, lineWidth: 1 },
				border: { color: '#000', width: 2.5, dash: [4, 4] }
			},
			y: {
				type: 'linear',
				min: 0,
				max: 3.5,
				afterFit(scale) { scale.width = 68; },
				afterBuildTicks(scale) { scale.ticks = yTickLabels.map(v => ({ value: Number(v) })); },
				title: { display: true, text: yTitle, color: '#000', font: { family: fontName, size: 10, weight: 'bold' }, padding: { top: 22, bottom: 0 } },
				ticks: { color: '#333', font: { family: fontName, size: 12 }, padding: 6, callback: v => String(v) },
				grid: { color: '#808080', tickColor: '#333', tickLength: 4, lineWidth: 1 },
				border: { color: '#000', width: 2.5, dash: [4, 4] }
			}
		}
	},
	plugins: [chartFrame]
});
</script>
</body>
</html>
